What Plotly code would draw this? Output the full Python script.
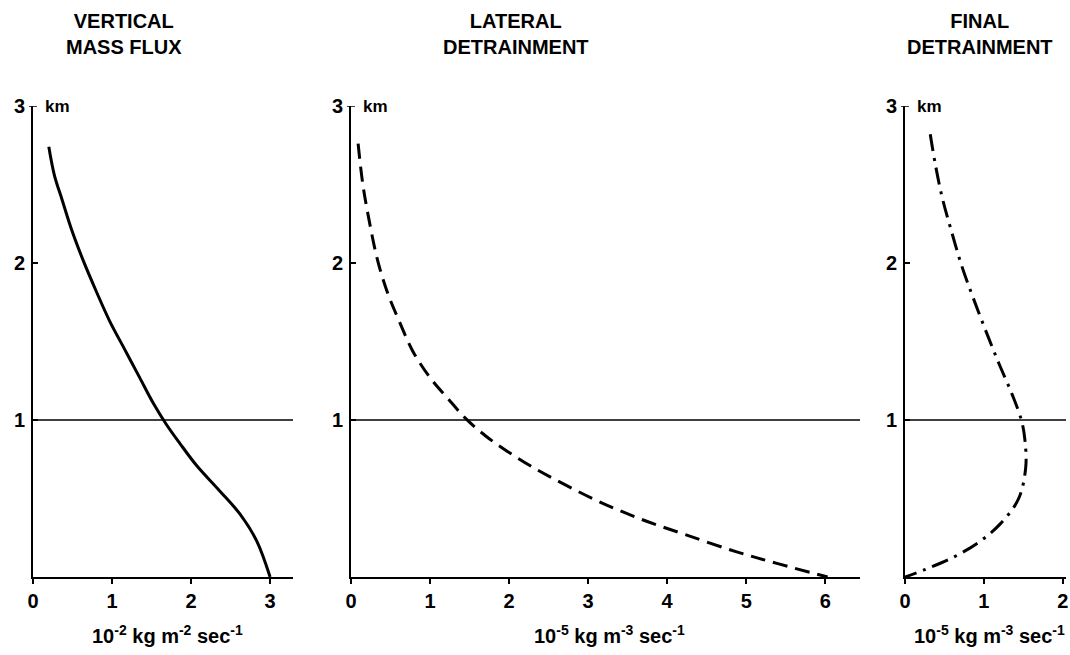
import plotly.graph_objects as go

W, H = 1070, 655

# ---- data ----
vmf_x = [0.20, 0.27, 0.37, 0.49, 0.64, 0.80, 0.97, 1.16, 1.35, 1.53, 1.69, 1.86, 2.07, 2.36, 2.62, 2.83, 3.00]
vmf_z = [2.74, 2.56, 2.40, 2.21, 2.01, 1.82, 1.63, 1.45, 1.27, 1.10, 0.97, 0.85, 0.71, 0.55, 0.40, 0.23, 0.0]

lat_x = [0.09, 0.15, 0.23, 0.34, 0.47, 0.61, 0.78, 1.00, 1.22, 1.45, 1.70, 1.98, 2.33, 2.70, 3.14, 3.66, 4.23, 4.88, 5.40, 6.03]
lat_z = [2.76, 2.50, 2.27, 2.01, 1.80, 1.63, 1.44, 1.27, 1.14, 1.01, 0.90, 0.80, 0.69, 0.59, 0.48, 0.37, 0.27, 0.16, 0.085, 0.0]

fin_x = [0.32, 0.38, 0.47, 0.59, 0.72, 0.87, 1.03, 1.19, 1.36, 1.48, 1.52, 1.53, 1.44, 1.21, 0.93, 0.59, 0.24, 0.0]
fin_z = [2.82, 2.64, 2.42, 2.20, 1.98, 1.77, 1.56, 1.36, 1.16, 0.99, 0.87, 0.70, 0.50, 0.34, 0.22, 0.12, 0.045, 0.0]

titles = ["VERTICAL<br>MASS FLUX", "LATERAL<br>DETRAINMENT", "FINAL<br>DETRAINMENT"]
units = ["10<sup>-2</sup> kg m<sup>-2</sup> sec<sup>-1</sup>",
         "10<sup>-5</sup> kg m<sup>-3</sup> sec<sup>-1</sup>",
         "10<sup>-5</sup> kg m<sup>-3</sup> sec<sup>-1</sup>"]
x_ticks = [[0, 1, 2, 3], [0, 1, 2, 3, 4, 5, 6], [0, 1, 2]]
y_ticks = [1, 2, 3]
x_ranges = [[0, 3.29], [0, 6.44], [0, 2.04]]
z_range = [0, 3]
ref_level = 1

FONT = "Liberation Sans, Arial, Helvetica, sans-serif"

# pixel layout
px_x = [(33, 293), (351, 860), (905, 1066)]
py_bottom, py_top = 577, 106
title_cx = [124, 516, 980]
title_cy = 34
unit_cy = 634

def fx(p):
    return p / W

def fy(p):
    return 1 - p / H

fig = go.Figure()

series = [(vmf_x, vmf_z, "solid"), (lat_x, lat_z, "15px,8px"), (fin_x, fin_z, "17px,7px,3px,7px")]
for i, (xs, zs, dash) in enumerate(series):
    sfx = "" if i == 0 else str(i + 1)
    fig.add_trace(go.Scatter(x=xs, y=zs, mode="lines",
                             line=dict(color="black", width=3, dash=dash, shape="spline", smoothing=1.0),
                             xaxis="x" + sfx, yaxis="y" + sfx, showlegend=False, hoverinfo="skip"))

layout = dict(width=W, height=H, margin=dict(l=0, r=0, t=0, b=0, autoexpand=False),
              paper_bgcolor="white", plot_bgcolor="white", showlegend=False,
              font=dict(family=FONT, color="black"))

annotations = []
shapes = []
for i in range(3):
    sfx = "" if i == 0 else str(i + 1)
    x0p, x1p = px_x[i]
    layout["xaxis" + sfx] = dict(domain=[fx(x0p), fx(x1p)], range=x_ranges[i],
                                 anchor="y" + sfx, showline=True, linecolor="black", linewidth=2,
                                 ticks="outside", ticklen=5, tickwidth=1.5, tickcolor="black",
                                 tickvals=x_ticks[i], ticktext=[str(v) for v in x_ticks[i]],
                                 tickfont=dict(size=20, family=FONT, weight="bold"),
                                 automargin=False,
                                 showgrid=False, zeroline=False, fixedrange=True)
    layout["yaxis" + sfx] = dict(domain=[fy(py_bottom), fy(py_top)], range=z_range,
                                 anchor="x" + sfx, showline=True, linecolor="black", linewidth=2,
                                 ticks="inside", ticklen=5, tickwidth=1.5, tickcolor="black",
                                 tickvals=y_ticks, ticktext=[str(v) for v in y_ticks],
                                 tickfont=dict(size=20, family=FONT, weight="bold"),
                                 ticklabelstandoff=2, automargin=False,
                                 showgrid=False, zeroline=False, fixedrange=True)
    shapes.append(dict(type="line", xref="x" + sfx, yref="y" + sfx,
                       x0=0, x1=x_ranges[i][1], y0=ref_level, y1=ref_level,
                       line=dict(color="black", width=1.3)))
    # "T" cap at top of the height axis
    shapes.append(dict(type="line", xref="paper", yref="y" + sfx,
                       x0=fx(x0p - 4), x1=fx(x0p + 4), y0=z_range[1], y1=z_range[1],
                       line=dict(color="black", width=1.5)))
    annotations.append(dict(text="<b>km</b>", xref="paper", yref="y" + sfx,
                            x=fx(x0p + 10), y=z_range[1], xanchor="left", yanchor="middle",
                            showarrow=False, font=dict(size=17, family=FONT)))
    annotations.append(dict(text="<b>" + titles[i] + "</b>", xref="paper", yref="paper",
                            x=fx(title_cx[i]), y=fy(title_cy), xanchor="center", yanchor="middle",
                            align="center", showarrow=False, font=dict(size=20, family=FONT)))
    annotations.append(dict(text="<b>" + units[i] + "</b>", xref="paper", yref="paper",
                            x=fx((x0p + x1p) / 2 + 4), y=fy(unit_cy), xanchor="center", yanchor="middle",
                            showarrow=False, font=dict(size=20, family=FONT)))

layout["annotations"] = annotations
layout["shapes"] = shapes
fig.update_layout(**layout)
fig.write_html("out.html", config={"displayModeBar": False},
               post_script="document.body.style.margin='0px';document.body.style.overflow='hidden';")
